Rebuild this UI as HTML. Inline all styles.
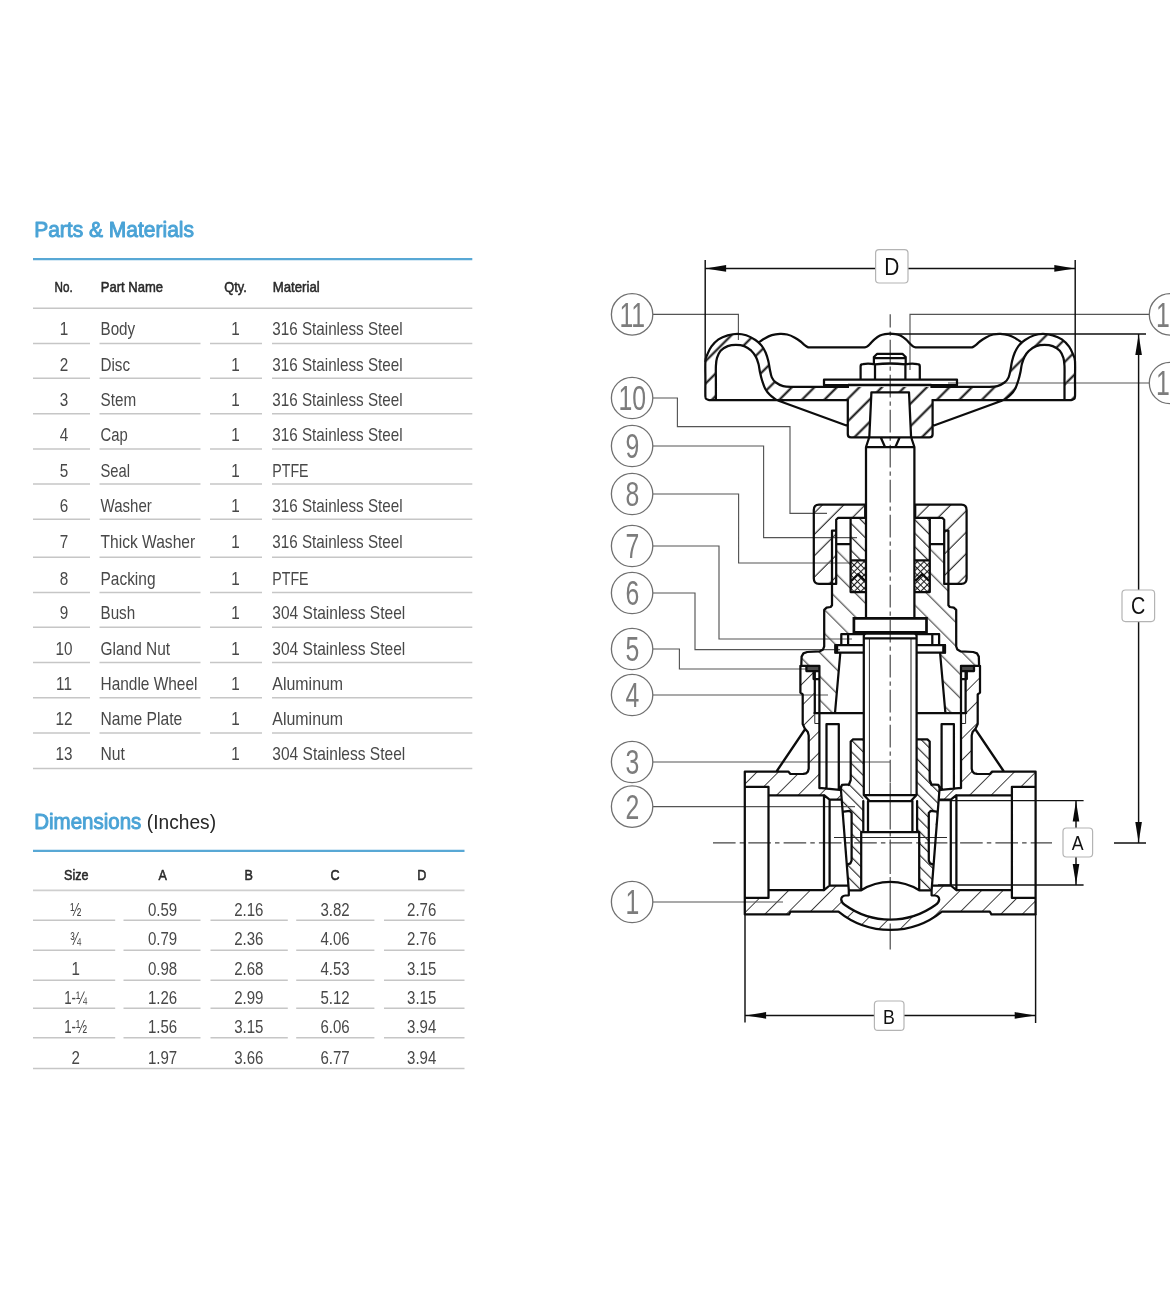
<!DOCTYPE html>
<html lang="en">
<head>
<meta charset="utf-8">
<title>Gate Valve - Parts &amp; Materials</title>
<style>
html,body{margin:0;padding:0;background:#fff}
body{width:1170px;height:1295px;overflow:hidden;font-family:"Liberation Sans",sans-serif}
svg{display:block;will-change:transform}
.k{fill:none;stroke:#0c0c0c;stroke-width:2.25;stroke-linejoin:round;stroke-linecap:round}
.k3{fill:none;stroke:#0c0c0c;stroke-width:2.7;stroke-linejoin:miter}
.k4{fill:none;stroke:#0c0c0c;stroke-width:3.8}
.t{fill:none;stroke:#2a2a2a;stroke-width:1}
.ld{fill:none;stroke:#555;stroke-width:1.15}
.dm{fill:none;stroke:#111;stroke-width:1.45}
.ar{fill:#0a0a0a;stroke:none}
.cl{fill:none;stroke:#444;stroke-width:1.15;stroke-dasharray:22.6 4 4.4 4}
.cc{fill:#fff;stroke:#707070;stroke-width:1.3}
.cn{font-family:"Liberation Sans",sans-serif;font-size:36px;text-anchor:middle;fill:#7c7c7c}
.lb{fill:#fff;stroke:#b4b4b4;stroke-width:1.2}
.wf{fill:#fff;stroke:none}
.sf{fill:#4a4a4a;stroke:none}
.hA{fill:url(#hA);stroke:none}
.hB{fill:url(#hB);stroke:none}
.hC{fill:url(#hC);stroke:none}
.hD{fill:url(#hD);stroke:none}
.hE{fill:url(#hE);stroke:none}
.hG{fill:url(#hG);stroke:none}
.hX{fill:url(#hX);stroke:none}
</style>
</head>
<body>
<svg width="1170" height="1295" viewBox="0 0 1170 1295">
<defs>
<pattern id="hA" width="15.910" height="15.910" patternUnits="userSpaceOnUse" patternTransform="rotate(-45)"><path d="M-1 -9.40H16.91M-1 6.51H16.91M-1 22.42H16.91" stroke="#0a0a0a" stroke-width="1.85"/></pattern>
<pattern id="hB" width="15.167" height="15.167" patternUnits="userSpaceOnUse" patternTransform="rotate(-45)"><path d="M-1 -10.89H16.17M-1 4.28H16.17M-1 19.45H16.17" stroke="#3c3c3c" stroke-width="1.1"/></pattern>
<pattern id="hG" width="15.132" height="15.132" patternUnits="userSpaceOnUse" patternTransform="rotate(-45)"><path d="M-1 -14.78H16.13M-1 0.35H16.13M-1 15.49H16.13" stroke="#2c2c2c" stroke-width="1.1"/></pattern>
<pattern id="hC" width="16.794" height="16.794" patternUnits="userSpaceOnUse" patternTransform="rotate(45)"><path d="M-1 -0.74H17.79M-1 16.05H17.79M-1 32.85H17.79" stroke="#2c2c2c" stroke-width="1.1"/></pattern>
<pattern id="hD" width="8.273" height="8.273" patternUnits="userSpaceOnUse" patternTransform="rotate(45)"><path d="M-1 -4.31H9.27M-1 3.96H9.27M-1 12.23H9.27" stroke="#2a2a2a" stroke-width="1.1"/></pattern>
<pattern id="hE" width="9.546" height="9.546" patternUnits="userSpaceOnUse" patternTransform="rotate(45)"><path d="M-1 -2.47H10.55M-1 7.07H10.55M-1 16.62H10.55" stroke="#2c2c2c" stroke-width="1.1"/></pattern>
<pattern id="hX" width="4.7" height="4.7" patternUnits="userSpaceOnUse" patternTransform="rotate(45)"><path d="M0 2.35H4.7M2.35 0V4.7" stroke="#1c1c1c" stroke-width="1.15"/></pattern>
</defs>
<g id="parts">
<text transform="translate(34.18 237.30) scale(0.982 1)" font-family="Liberation Sans, sans-serif" font-size="21.4" font-weight="normal" fill="#4aa3d6" stroke="#4aa3d6" stroke-width="0.95" stroke-linejoin="round">Parts &amp; Materials</text>
<path d="M33 259.2H472.3" stroke="#58a8d5" stroke-width="2.2" fill="none"/>
<text transform="translate(54.62 291.60) scale(0.789 1)" font-family="Liberation Sans, sans-serif" font-size="14.8" font-weight="normal" fill="#2a2a2a" stroke="#2a2a2a" stroke-width="0.55" stroke-linejoin="round">No.</text>
<text transform="translate(100.82 291.60) scale(0.881 1)" font-family="Liberation Sans, sans-serif" font-size="14.8" font-weight="normal" fill="#2a2a2a" stroke="#2a2a2a" stroke-width="0.55" stroke-linejoin="round">Part Name</text>
<text transform="translate(224.22 291.60) scale(0.866 1)" font-family="Liberation Sans, sans-serif" font-size="14.8" font-weight="normal" fill="#2a2a2a" stroke="#2a2a2a" stroke-width="0.55" stroke-linejoin="round">Qty.</text>
<text transform="translate(272.72 291.60) scale(0.893 1)" font-family="Liberation Sans, sans-serif" font-size="14.8" font-weight="normal" fill="#2a2a2a" stroke="#2a2a2a" stroke-width="0.55" stroke-linejoin="round">Material</text>
<path d="M33 308.2H472.3" stroke="#c6c6c6" stroke-width="1.5" fill="none"/>
<text transform="translate(59.76 335.40) scale(0.840 1)" font-family="Liberation Sans, sans-serif" font-size="18.2" font-weight="normal" fill="#484848">1</text>
<text transform="translate(100.50 335.40) scale(0.836 1)" font-family="Liberation Sans, sans-serif" font-size="18.2" font-weight="normal" fill="#484848">Body</text>
<text transform="translate(231.26 335.40) scale(0.840 1)" font-family="Liberation Sans, sans-serif" font-size="18.2" font-weight="normal" fill="#484848">1</text>
<text transform="translate(272.30 335.40) scale(0.837 1)" font-family="Liberation Sans, sans-serif" font-size="18.2" font-weight="normal" fill="#484848">316 Stainless Steel</text>
<path d="M33 343.4H90" stroke="#c6c6c6" stroke-width="1.5" fill="none"/>
<path d="M99.5 343.4H200.5" stroke="#c6c6c6" stroke-width="1.5" fill="none"/>
<path d="M210 343.4H262" stroke="#c6c6c6" stroke-width="1.5" fill="none"/>
<path d="M272 343.4H472.3" stroke="#c6c6c6" stroke-width="1.5" fill="none"/>
<text transform="translate(59.76 370.60) scale(0.840 1)" font-family="Liberation Sans, sans-serif" font-size="18.2" font-weight="normal" fill="#484848">2</text>
<text transform="translate(100.50 370.60) scale(0.836 1)" font-family="Liberation Sans, sans-serif" font-size="18.2" font-weight="normal" fill="#484848">Disc</text>
<text transform="translate(231.26 370.60) scale(0.840 1)" font-family="Liberation Sans, sans-serif" font-size="18.2" font-weight="normal" fill="#484848">1</text>
<text transform="translate(272.30 370.60) scale(0.837 1)" font-family="Liberation Sans, sans-serif" font-size="18.2" font-weight="normal" fill="#484848">316 Stainless Steel</text>
<path d="M33 378.3H90" stroke="#c6c6c6" stroke-width="1.5" fill="none"/>
<path d="M99.5 378.3H200.5" stroke="#c6c6c6" stroke-width="1.5" fill="none"/>
<path d="M210 378.3H262" stroke="#c6c6c6" stroke-width="1.5" fill="none"/>
<path d="M272 378.3H472.3" stroke="#c6c6c6" stroke-width="1.5" fill="none"/>
<text transform="translate(59.76 406.00) scale(0.840 1)" font-family="Liberation Sans, sans-serif" font-size="18.2" font-weight="normal" fill="#484848">3</text>
<text transform="translate(100.50 406.00) scale(0.838 1)" font-family="Liberation Sans, sans-serif" font-size="18.2" font-weight="normal" fill="#484848">Stem</text>
<text transform="translate(231.26 406.00) scale(0.840 1)" font-family="Liberation Sans, sans-serif" font-size="18.2" font-weight="normal" fill="#484848">1</text>
<text transform="translate(272.30 406.00) scale(0.837 1)" font-family="Liberation Sans, sans-serif" font-size="18.2" font-weight="normal" fill="#484848">316 Stainless Steel</text>
<path d="M33 413.8H90" stroke="#c6c6c6" stroke-width="1.5" fill="none"/>
<path d="M99.5 413.8H200.5" stroke="#c6c6c6" stroke-width="1.5" fill="none"/>
<path d="M210 413.8H262" stroke="#c6c6c6" stroke-width="1.5" fill="none"/>
<path d="M272 413.8H472.3" stroke="#c6c6c6" stroke-width="1.5" fill="none"/>
<text transform="translate(59.76 441.10) scale(0.840 1)" font-family="Liberation Sans, sans-serif" font-size="18.2" font-weight="normal" fill="#484848">4</text>
<text transform="translate(100.50 441.10) scale(0.817 1)" font-family="Liberation Sans, sans-serif" font-size="18.2" font-weight="normal" fill="#484848">Cap</text>
<text transform="translate(231.26 441.10) scale(0.840 1)" font-family="Liberation Sans, sans-serif" font-size="18.2" font-weight="normal" fill="#484848">1</text>
<text transform="translate(272.30 441.10) scale(0.837 1)" font-family="Liberation Sans, sans-serif" font-size="18.2" font-weight="normal" fill="#484848">316 Stainless Steel</text>
<path d="M33 449.1H90" stroke="#c6c6c6" stroke-width="1.5" fill="none"/>
<path d="M99.5 449.1H200.5" stroke="#c6c6c6" stroke-width="1.5" fill="none"/>
<path d="M210 449.1H262" stroke="#c6c6c6" stroke-width="1.5" fill="none"/>
<path d="M272 449.1H472.3" stroke="#c6c6c6" stroke-width="1.5" fill="none"/>
<text transform="translate(59.76 476.50) scale(0.840 1)" font-family="Liberation Sans, sans-serif" font-size="18.2" font-weight="normal" fill="#484848">5</text>
<text transform="translate(100.50 476.50) scale(0.813 1)" font-family="Liberation Sans, sans-serif" font-size="18.2" font-weight="normal" fill="#484848">Seal</text>
<text transform="translate(231.26 476.50) scale(0.840 1)" font-family="Liberation Sans, sans-serif" font-size="18.2" font-weight="normal" fill="#484848">1</text>
<text transform="translate(272.30 476.50) scale(0.781 1)" font-family="Liberation Sans, sans-serif" font-size="18.2" font-weight="normal" fill="#484848">PTFE</text>
<path d="M33 484.1H90" stroke="#c6c6c6" stroke-width="1.5" fill="none"/>
<path d="M99.5 484.1H200.5" stroke="#c6c6c6" stroke-width="1.5" fill="none"/>
<path d="M210 484.1H262" stroke="#c6c6c6" stroke-width="1.5" fill="none"/>
<path d="M272 484.1H472.3" stroke="#c6c6c6" stroke-width="1.5" fill="none"/>
<text transform="translate(59.76 511.60) scale(0.840 1)" font-family="Liberation Sans, sans-serif" font-size="18.2" font-weight="normal" fill="#484848">6</text>
<text transform="translate(100.50 511.60) scale(0.827 1)" font-family="Liberation Sans, sans-serif" font-size="18.2" font-weight="normal" fill="#484848">Washer</text>
<text transform="translate(231.26 511.60) scale(0.840 1)" font-family="Liberation Sans, sans-serif" font-size="18.2" font-weight="normal" fill="#484848">1</text>
<text transform="translate(272.30 511.60) scale(0.837 1)" font-family="Liberation Sans, sans-serif" font-size="18.2" font-weight="normal" fill="#484848">316 Stainless Steel</text>
<path d="M33 519.3H90" stroke="#c6c6c6" stroke-width="1.5" fill="none"/>
<path d="M99.5 519.3H200.5" stroke="#c6c6c6" stroke-width="1.5" fill="none"/>
<path d="M210 519.3H262" stroke="#c6c6c6" stroke-width="1.5" fill="none"/>
<path d="M272 519.3H472.3" stroke="#c6c6c6" stroke-width="1.5" fill="none"/>
<text transform="translate(59.76 547.60) scale(0.840 1)" font-family="Liberation Sans, sans-serif" font-size="18.2" font-weight="normal" fill="#484848">7</text>
<text transform="translate(100.50 547.60) scale(0.857 1)" font-family="Liberation Sans, sans-serif" font-size="18.2" font-weight="normal" fill="#484848">Thick Washer</text>
<text transform="translate(231.26 547.60) scale(0.840 1)" font-family="Liberation Sans, sans-serif" font-size="18.2" font-weight="normal" fill="#484848">1</text>
<text transform="translate(272.30 547.60) scale(0.837 1)" font-family="Liberation Sans, sans-serif" font-size="18.2" font-weight="normal" fill="#484848">316 Stainless Steel</text>
<path d="M33 557.3H90" stroke="#c6c6c6" stroke-width="1.5" fill="none"/>
<path d="M99.5 557.3H200.5" stroke="#c6c6c6" stroke-width="1.5" fill="none"/>
<path d="M210 557.3H262" stroke="#c6c6c6" stroke-width="1.5" fill="none"/>
<path d="M272 557.3H472.3" stroke="#c6c6c6" stroke-width="1.5" fill="none"/>
<text transform="translate(59.76 584.80) scale(0.840 1)" font-family="Liberation Sans, sans-serif" font-size="18.2" font-weight="normal" fill="#484848">8</text>
<text transform="translate(100.50 584.80) scale(0.850 1)" font-family="Liberation Sans, sans-serif" font-size="18.2" font-weight="normal" fill="#484848">Packing</text>
<text transform="translate(231.26 584.80) scale(0.840 1)" font-family="Liberation Sans, sans-serif" font-size="18.2" font-weight="normal" fill="#484848">1</text>
<text transform="translate(272.30 584.80) scale(0.781 1)" font-family="Liberation Sans, sans-serif" font-size="18.2" font-weight="normal" fill="#484848">PTFE</text>
<path d="M33 592.5H90" stroke="#c6c6c6" stroke-width="1.5" fill="none"/>
<path d="M99.5 592.5H200.5" stroke="#c6c6c6" stroke-width="1.5" fill="none"/>
<path d="M210 592.5H262" stroke="#c6c6c6" stroke-width="1.5" fill="none"/>
<path d="M272 592.5H472.3" stroke="#c6c6c6" stroke-width="1.5" fill="none"/>
<text transform="translate(59.76 619.40) scale(0.840 1)" font-family="Liberation Sans, sans-serif" font-size="18.2" font-weight="normal" fill="#484848">9</text>
<text transform="translate(100.50 619.40) scale(0.836 1)" font-family="Liberation Sans, sans-serif" font-size="18.2" font-weight="normal" fill="#484848">Bush</text>
<text transform="translate(231.26 619.40) scale(0.840 1)" font-family="Liberation Sans, sans-serif" font-size="18.2" font-weight="normal" fill="#484848">1</text>
<text transform="translate(272.30 619.40) scale(0.854 1)" font-family="Liberation Sans, sans-serif" font-size="18.2" font-weight="normal" fill="#484848">304 Stainless Steel</text>
<path d="M33 627.3H90" stroke="#c6c6c6" stroke-width="1.5" fill="none"/>
<path d="M99.5 627.3H200.5" stroke="#c6c6c6" stroke-width="1.5" fill="none"/>
<path d="M210 627.3H262" stroke="#c6c6c6" stroke-width="1.5" fill="none"/>
<path d="M272 627.3H472.3" stroke="#c6c6c6" stroke-width="1.5" fill="none"/>
<text transform="translate(55.52 654.50) scale(0.840 1)" font-family="Liberation Sans, sans-serif" font-size="18.2" font-weight="normal" fill="#484848">10</text>
<text transform="translate(100.50 654.50) scale(0.849 1)" font-family="Liberation Sans, sans-serif" font-size="18.2" font-weight="normal" fill="#484848">Gland Nut</text>
<text transform="translate(231.26 654.50) scale(0.840 1)" font-family="Liberation Sans, sans-serif" font-size="18.2" font-weight="normal" fill="#484848">1</text>
<text transform="translate(272.30 654.50) scale(0.854 1)" font-family="Liberation Sans, sans-serif" font-size="18.2" font-weight="normal" fill="#484848">304 Stainless Steel</text>
<path d="M33 662.4H90" stroke="#c6c6c6" stroke-width="1.5" fill="none"/>
<path d="M99.5 662.4H200.5" stroke="#c6c6c6" stroke-width="1.5" fill="none"/>
<path d="M210 662.4H262" stroke="#c6c6c6" stroke-width="1.5" fill="none"/>
<path d="M272 662.4H472.3" stroke="#c6c6c6" stroke-width="1.5" fill="none"/>
<text transform="translate(56.05 689.80) scale(0.840 1)" font-family="Liberation Sans, sans-serif" font-size="18.2" font-weight="normal" fill="#484848">11</text>
<text transform="translate(100.50 689.80) scale(0.848 1)" font-family="Liberation Sans, sans-serif" font-size="18.2" font-weight="normal" fill="#484848">Handle Wheel</text>
<text transform="translate(231.26 689.80) scale(0.840 1)" font-family="Liberation Sans, sans-serif" font-size="18.2" font-weight="normal" fill="#484848">1</text>
<text transform="translate(272.30 689.80) scale(0.876 1)" font-family="Liberation Sans, sans-serif" font-size="18.2" font-weight="normal" fill="#484848">Aluminum</text>
<path d="M33 697.8H90" stroke="#c6c6c6" stroke-width="1.5" fill="none"/>
<path d="M99.5 697.8H200.5" stroke="#c6c6c6" stroke-width="1.5" fill="none"/>
<path d="M210 697.8H262" stroke="#c6c6c6" stroke-width="1.5" fill="none"/>
<path d="M272 697.8H472.3" stroke="#c6c6c6" stroke-width="1.5" fill="none"/>
<text transform="translate(55.52 724.90) scale(0.840 1)" font-family="Liberation Sans, sans-serif" font-size="18.2" font-weight="normal" fill="#484848">12</text>
<text transform="translate(100.50 724.90) scale(0.860 1)" font-family="Liberation Sans, sans-serif" font-size="18.2" font-weight="normal" fill="#484848">Name Plate</text>
<text transform="translate(231.26 724.90) scale(0.840 1)" font-family="Liberation Sans, sans-serif" font-size="18.2" font-weight="normal" fill="#484848">1</text>
<text transform="translate(272.30 724.90) scale(0.876 1)" font-family="Liberation Sans, sans-serif" font-size="18.2" font-weight="normal" fill="#484848">Aluminum</text>
<path d="M33 732.9H90" stroke="#c6c6c6" stroke-width="1.5" fill="none"/>
<path d="M99.5 732.9H200.5" stroke="#c6c6c6" stroke-width="1.5" fill="none"/>
<path d="M210 732.9H262" stroke="#c6c6c6" stroke-width="1.5" fill="none"/>
<path d="M272 732.9H472.3" stroke="#c6c6c6" stroke-width="1.5" fill="none"/>
<text transform="translate(55.52 760.00) scale(0.840 1)" font-family="Liberation Sans, sans-serif" font-size="18.2" font-weight="normal" fill="#484848">13</text>
<text transform="translate(100.50 760.00) scale(0.862 1)" font-family="Liberation Sans, sans-serif" font-size="18.2" font-weight="normal" fill="#484848">Nut</text>
<text transform="translate(231.26 760.00) scale(0.840 1)" font-family="Liberation Sans, sans-serif" font-size="18.2" font-weight="normal" fill="#484848">1</text>
<text transform="translate(272.30 760.00) scale(0.854 1)" font-family="Liberation Sans, sans-serif" font-size="18.2" font-weight="normal" fill="#484848">304 Stainless Steel</text>
<path d="M33 768.4H472.3" stroke="#c6c6c6" stroke-width="1.5" fill="none"/>
</g>
<g id="dims">
<text transform="translate(34.18 829.10) scale(0.959 1)" font-family="Liberation Sans, sans-serif" font-size="21.4" font-weight="normal" fill="#4aa3d6" stroke="#4aa3d6" stroke-width="0.95" stroke-linejoin="round">Dimensions</text>
<text transform="translate(146.80 829.10) scale(0.913 1)" font-family="Liberation Sans, sans-serif" font-size="21" font-weight="normal" fill="#262626">(Inches)</text>
<path d="M33 850.8H464.5" stroke="#58a8d5" stroke-width="2.2" fill="none"/>
<text transform="translate(64.07 879.60) scale(0.850 1)" font-family="Liberation Sans, sans-serif" font-size="14.8" font-weight="normal" fill="#2a2a2a" stroke="#2a2a2a" stroke-width="0.55" stroke-linejoin="round">Size</text>
<text transform="translate(158.39 879.60) scale(0.850 1)" font-family="Liberation Sans, sans-serif" font-size="14.8" font-weight="normal" fill="#2a2a2a" stroke="#2a2a2a" stroke-width="0.55" stroke-linejoin="round">A</text>
<text transform="translate(244.62 879.60) scale(0.850 1)" font-family="Liberation Sans, sans-serif" font-size="14.8" font-weight="normal" fill="#2a2a2a" stroke="#2a2a2a" stroke-width="0.55" stroke-linejoin="round">B</text>
<text transform="translate(330.57 879.60) scale(0.850 1)" font-family="Liberation Sans, sans-serif" font-size="14.8" font-weight="normal" fill="#2a2a2a" stroke="#2a2a2a" stroke-width="0.55" stroke-linejoin="round">C</text>
<text transform="translate(417.17 879.60) scale(0.850 1)" font-family="Liberation Sans, sans-serif" font-size="14.8" font-weight="normal" fill="#2a2a2a" stroke="#2a2a2a" stroke-width="0.55" stroke-linejoin="round">D</text>
<path d="M33 890.4H464.5" stroke="#cfcfcf" stroke-width="1.8" fill="none"/>
<text transform="translate(70.14 915.50) scale(0.740 1)" font-family="Liberation Sans, sans-serif" font-size="18" font-weight="normal" fill="#484848">½</text>
<text transform="translate(147.95 915.50) scale(0.837 1)" font-family="Liberation Sans, sans-serif" font-size="18" font-weight="normal" fill="#484848">0.59</text>
<text transform="translate(234.15 915.50) scale(0.837 1)" font-family="Liberation Sans, sans-serif" font-size="18" font-weight="normal" fill="#484848">2.16</text>
<text transform="translate(320.45 915.50) scale(0.837 1)" font-family="Liberation Sans, sans-serif" font-size="18" font-weight="normal" fill="#484848">3.82</text>
<text transform="translate(407.05 915.50) scale(0.837 1)" font-family="Liberation Sans, sans-serif" font-size="18" font-weight="normal" fill="#484848">2.76</text>
<path d="M33 920.3H115.2" stroke="#c6c6c6" stroke-width="1.5" fill="none"/>
<path d="M123.5 920.3H200.5" stroke="#c6c6c6" stroke-width="1.5" fill="none"/>
<path d="M210.5 920.3H287.8" stroke="#c6c6c6" stroke-width="1.5" fill="none"/>
<path d="M296.2 920.3H374.4" stroke="#c6c6c6" stroke-width="1.5" fill="none"/>
<path d="M384 920.3H464.5" stroke="#c6c6c6" stroke-width="1.5" fill="none"/>
<text transform="translate(70.07 944.60) scale(0.740 1)" font-family="Liberation Sans, sans-serif" font-size="18" font-weight="normal" fill="#484848">¾</text>
<text transform="translate(147.95 944.60) scale(0.837 1)" font-family="Liberation Sans, sans-serif" font-size="18" font-weight="normal" fill="#484848">0.79</text>
<text transform="translate(234.15 944.60) scale(0.837 1)" font-family="Liberation Sans, sans-serif" font-size="18" font-weight="normal" fill="#484848">2.36</text>
<text transform="translate(320.45 944.60) scale(0.837 1)" font-family="Liberation Sans, sans-serif" font-size="18" font-weight="normal" fill="#484848">4.06</text>
<text transform="translate(407.05 944.60) scale(0.837 1)" font-family="Liberation Sans, sans-serif" font-size="18" font-weight="normal" fill="#484848">2.76</text>
<path d="M33 950.2H115.2" stroke="#c6c6c6" stroke-width="1.5" fill="none"/>
<path d="M123.5 950.2H200.5" stroke="#c6c6c6" stroke-width="1.5" fill="none"/>
<path d="M210.5 950.2H287.8" stroke="#c6c6c6" stroke-width="1.5" fill="none"/>
<path d="M296.2 950.2H374.4" stroke="#c6c6c6" stroke-width="1.5" fill="none"/>
<path d="M384 950.2H464.5" stroke="#c6c6c6" stroke-width="1.5" fill="none"/>
<text transform="translate(71.50 975.00) scale(0.840 1)" font-family="Liberation Sans, sans-serif" font-size="18" font-weight="normal" fill="#484848">1</text>
<text transform="translate(147.95 975.00) scale(0.837 1)" font-family="Liberation Sans, sans-serif" font-size="18" font-weight="normal" fill="#484848">0.98</text>
<text transform="translate(234.15 975.00) scale(0.837 1)" font-family="Liberation Sans, sans-serif" font-size="18" font-weight="normal" fill="#484848">2.68</text>
<text transform="translate(320.45 975.00) scale(0.837 1)" font-family="Liberation Sans, sans-serif" font-size="18" font-weight="normal" fill="#484848">4.53</text>
<text transform="translate(407.05 975.00) scale(0.837 1)" font-family="Liberation Sans, sans-serif" font-size="18" font-weight="normal" fill="#484848">3.15</text>
<path d="M33 980.2H115.2" stroke="#c6c6c6" stroke-width="1.5" fill="none"/>
<path d="M123.5 980.2H200.5" stroke="#c6c6c6" stroke-width="1.5" fill="none"/>
<path d="M210.5 980.2H287.8" stroke="#c6c6c6" stroke-width="1.5" fill="none"/>
<path d="M296.2 980.2H374.4" stroke="#c6c6c6" stroke-width="1.5" fill="none"/>
<path d="M384 980.2H464.5" stroke="#c6c6c6" stroke-width="1.5" fill="none"/>
<text transform="translate(64.14 1004.10) scale(0.740 1)" font-family="Liberation Sans, sans-serif" font-size="18" font-weight="normal" fill="#484848">1-¼</text>
<text transform="translate(147.95 1004.10) scale(0.837 1)" font-family="Liberation Sans, sans-serif" font-size="18" font-weight="normal" fill="#484848">1.26</text>
<text transform="translate(234.15 1004.10) scale(0.837 1)" font-family="Liberation Sans, sans-serif" font-size="18" font-weight="normal" fill="#484848">2.99</text>
<text transform="translate(320.45 1004.10) scale(0.837 1)" font-family="Liberation Sans, sans-serif" font-size="18" font-weight="normal" fill="#484848">5.12</text>
<text transform="translate(407.05 1004.10) scale(0.837 1)" font-family="Liberation Sans, sans-serif" font-size="18" font-weight="normal" fill="#484848">3.15</text>
<path d="M33 1008.2H115.2" stroke="#c6c6c6" stroke-width="1.5" fill="none"/>
<path d="M123.5 1008.2H200.5" stroke="#c6c6c6" stroke-width="1.5" fill="none"/>
<path d="M210.5 1008.2H287.8" stroke="#c6c6c6" stroke-width="1.5" fill="none"/>
<path d="M296.2 1008.2H374.4" stroke="#c6c6c6" stroke-width="1.5" fill="none"/>
<path d="M384 1008.2H464.5" stroke="#c6c6c6" stroke-width="1.5" fill="none"/>
<text transform="translate(64.21 1032.80) scale(0.740 1)" font-family="Liberation Sans, sans-serif" font-size="18" font-weight="normal" fill="#484848">1-½</text>
<text transform="translate(147.95 1032.80) scale(0.837 1)" font-family="Liberation Sans, sans-serif" font-size="18" font-weight="normal" fill="#484848">1.56</text>
<text transform="translate(234.15 1032.80) scale(0.837 1)" font-family="Liberation Sans, sans-serif" font-size="18" font-weight="normal" fill="#484848">3.15</text>
<text transform="translate(320.45 1032.80) scale(0.837 1)" font-family="Liberation Sans, sans-serif" font-size="18" font-weight="normal" fill="#484848">6.06</text>
<text transform="translate(407.05 1032.80) scale(0.837 1)" font-family="Liberation Sans, sans-serif" font-size="18" font-weight="normal" fill="#484848">3.94</text>
<path d="M33 1037.8H115.2" stroke="#c6c6c6" stroke-width="1.5" fill="none"/>
<path d="M123.5 1037.8H200.5" stroke="#c6c6c6" stroke-width="1.5" fill="none"/>
<path d="M210.5 1037.8H287.8" stroke="#c6c6c6" stroke-width="1.5" fill="none"/>
<path d="M296.2 1037.8H374.4" stroke="#c6c6c6" stroke-width="1.5" fill="none"/>
<path d="M384 1037.8H464.5" stroke="#c6c6c6" stroke-width="1.5" fill="none"/>
<text transform="translate(71.50 1063.50) scale(0.840 1)" font-family="Liberation Sans, sans-serif" font-size="18" font-weight="normal" fill="#484848">2</text>
<text transform="translate(147.95 1063.50) scale(0.837 1)" font-family="Liberation Sans, sans-serif" font-size="18" font-weight="normal" fill="#484848">1.97</text>
<text transform="translate(234.15 1063.50) scale(0.837 1)" font-family="Liberation Sans, sans-serif" font-size="18" font-weight="normal" fill="#484848">3.66</text>
<text transform="translate(320.45 1063.50) scale(0.837 1)" font-family="Liberation Sans, sans-serif" font-size="18" font-weight="normal" fill="#484848">6.77</text>
<text transform="translate(407.05 1063.50) scale(0.837 1)" font-family="Liberation Sans, sans-serif" font-size="18" font-weight="normal" fill="#484848">3.94</text>
<path d="M33 1068.4H464.5" stroke="#c6c6c6" stroke-width="1.5" fill="none"/>
</g>
<g id="drawing">
<path class="hA" d="M709 400C708.6 399.8 707 399.6 706.4 399C705.8 398.4 705.6 399.7 705.4 396.5C705.2 393.3 705.4 385.9 705.4 380C705.4 374.1 705.1 365.2 705.4 361C705.7 356.8 706.2 357.2 707.2 354.8C708.2 352.4 709.4 349.2 711.3 346.6C713.2 344 715.8 341.3 718.5 339.4C721.2 337.5 724.5 336.2 727.7 335.3C730.9 334.4 734.4 333.8 737.5 333.8C740.6 333.8 743.2 334.3 746.2 335.3C749.2 336.3 752.8 338.3 755.4 340C758 341.7 759.9 343.5 761.6 345.6C763.3 347.7 764.6 350.2 765.7 352.8C766.8 355.4 767.6 358.3 768.3 361C769 363.7 769.2 366.5 769.8 369.2C770.4 371.9 770.8 375.2 771.8 377.4C772.8 379.6 774 381.1 775.9 382.5C777.8 383.9 780.4 385.4 783.1 386.1C785.9 386.8 790.9 386.8 792.4 386.9L988 386.9L988 386.9C989.5 386.8 994.5 386.8 997.3 386.1C1000 385.4 1002.6 383.9 1004.5 382.5C1006.4 381.1 1007.6 379.6 1008.6 377.4C1009.6 375.2 1010 371.9 1010.6 369.2C1011.2 366.5 1011.4 363.7 1012.1 361C1012.8 358.3 1013.6 355.4 1014.7 352.8C1015.8 350.2 1017.1 347.7 1018.8 345.6C1020.5 343.5 1022.4 341.7 1025 340C1027.6 338.3 1031.2 336.3 1034.2 335.3C1037.2 334.3 1039.8 333.8 1042.9 333.8C1046 333.8 1049.5 334.4 1052.7 335.3C1055.9 336.2 1059.2 337.5 1061.9 339.4C1064.6 341.3 1067.2 344 1069.1 346.6C1071 349.2 1072.2 352.4 1073.2 354.8C1074.2 357.2 1074.7 356.8 1075 361C1075.3 365.2 1075 374.1 1075 380C1075 385.9 1075.2 393.3 1075 396.5C1074.8 399.7 1074.6 398.4 1074 399C1073.4 399.6 1071.8 399.8 1071.4 400L1064.5 399.5L1064.5 399.5C1064.5 396.6 1064.5 387.6 1064.5 382C1064.5 376.4 1064.7 370 1064.5 366C1064.3 362 1064.2 360.4 1063.4 357.9C1062.6 355.3 1061.6 352.7 1059.8 350.7C1058 348.7 1055.2 347.1 1052.7 346.1C1050.2 345.1 1047.2 344.8 1044.5 344.8C1041.8 344.8 1038.8 345.1 1036.2 346.1C1033.6 347.1 1031 348.9 1029.1 350.7C1027.1 352.5 1025.7 354.7 1024.5 356.9C1023.3 359.1 1022.6 361.4 1021.9 364C1021.2 366.6 1021 369.6 1020.4 372.3C1019.8 375.1 1019.2 377.8 1018.3 380.5C1017.4 383.2 1016.5 386.3 1015.2 388.7C1013.9 391.1 1012.4 393 1010.6 394.8C1008.8 396.6 1005.4 398.8 1004.4 399.6L932.4 400 L932.4 435 L929.4 438 L911.4 438 L908.4 393 L872 393 L869 438 L851 438 L848 435 L848 400L776 399.6L776 399.6C775 398.8 771.6 396.6 769.8 394.8C768 393 766.5 391.1 765.2 388.7C763.9 386.3 763 383.2 762.1 380.5C761.2 377.8 760.6 375.1 760 372.3C759.4 369.6 759.2 366.6 758.5 364C757.8 361.4 757.1 359.1 755.9 356.9C754.7 354.7 753.2 352.5 751.3 350.7C749.3 348.9 746.8 347.1 744.2 346.1C741.6 345.1 738.6 344.8 735.9 344.8C733.1 344.8 730.2 345.1 727.7 346.1C725.2 347.1 722.4 348.7 720.6 350.7C718.8 352.7 717.8 355.3 717 357.9C716.2 360.4 716.1 362 715.9 366C715.7 370 715.9 376.4 715.9 382C715.9 387.6 715.9 396.6 715.9 399.5Z"/>
<path class="hG" d="M813.8 504.6 L865.2 504.6 L865.2 517.8 L836.2 517.8 L836.2 583.9 L813.8 583.9ZM966.6 504.6 L915.2 504.6 L915.2 517.8 L944.2 517.8 L944.2 583.9 L966.6 583.9Z"/>
<path class="hE" d="M850.6 517.8 L865.2 517.8 L865.2 560.4 L850.6 560.4ZM929.8 517.8 L915.2 517.8 L915.2 560.4 L929.8 560.4Z"/>
<path class="hX" d="M850.6 560.4 L865.2 560.4 L865.2 592 L850.6 592ZM929.8 560.4 L915.2 560.4 L915.2 592 L929.8 592Z"/>
<path class="hC" d="M836.2 544 L850.6 544 L850.6 592 L865.2 592 L865.2 618.2 L853.6 618.2 L853.6 633.8 L841.3 633.8 L841.3 645 L834.4 645 L834.4 652.8 L840.2 652.8 L835 713 L819.3 713 L819.3 665.8 L801.5 665.8 L801.5 657 L805.4 652.2 L820.8 651.6 L824.2 647 L824.2 609 L832 606.6 L832 583.9 L836.2 583.9ZM944.2 544 L929.8 544 L929.8 592 L915.2 592 L915.2 618.2 L926.8 618.2 L926.8 633.8 L939.1 633.8 L939.1 645 L946 645 L946 652.8 L940.2 652.8 L945.4 713 L961.1 713 L961.1 665.8 L978.9 665.8 L978.9 657 L975 652.2 L959.6 651.6 L956.2 647 L956.2 609 L948.4 606.6 L948.4 583.9 L944.2 583.9Z"/>
<path class="hB" d="M800.6 665 L800.6 690 L802.4 692 L802.4 724 L805 729 L808.6 733 L808.6 770 L805 774 L789 774 L788 771.6 L745 771.6 L745 786.8 L768.5 786.8 L768.5 795.3 L824 795.3 L829 799.6 L841.8 799.6 L841 790 L839.4 789 L819 787.5 L819 724 L814.3 724 L814.3 671 L806.2 671 L806.2 665ZM979.8 665 L979.8 690 L978 692 L978 724 L975.4 729 L971.8 733 L971.8 770 L975.4 774 L991.4 774 L992.4 771.6 L1035.4 771.6 L1035.4 786.8 L1011.9 786.8 L1011.9 795.3 L956.4 795.3 L951.4 799.6 L938.6 799.6 L939.4 790 L941 789 L961.4 787.5 L961.4 724 L966.1 724 L966.1 671 L974.2 671 L974.2 665Z"/>
<path class="hB" d="M848.4 885.5L848.8 895.3L845.5 895.5Q841.3 896 841.2 899.5Q841.6 903 845 905A77.3 77.3 0 0 0 935.4 905Q938.8 903 939.2 899.5Q939.1 896 934.9 895.5L931.6 895.3L932 885.5 L950.8 885.5 L956.4 890.2 L1011.9 890.2 L1011.9 897.9 L1035.4 897.9 L1035.4 914.4 L991.4 914.4 L989.9 911.7 L941.9 911.7A82.2 82.2 0 0 1 838.5 911.7L838.5 911.7 L790.5 911.7 L789 914.4 L745 914.4 L745 897.9 L768.5 897.9 L768.5 890.2 L824 890.2 L829.6 885.5 L848.4 885.5Z"/>
<path class="hD" d="M850.7 741 L852.5 739.4 L863.3 739.4 L863.3 832 L861.2 832 L861.2 890.3 L848.8 890.3 L841.2 790 L841.8 785 L848.8 784.4 L850.7 780ZM929.7 741 L927.9 739.4 L917.1 739.4 L917.1 832 L919.2 832 L919.2 890.3 L931.6 890.3 L939.2 790 L938.6 785 L931.6 784.4 L929.7 780Z"/>
<path class="wf" d="M843.8 811.6 L849.6 810.8 L851.6 813 L851.6 860.5 L850.4 863.4 L847.6 864.6ZM936.6 811.6 L930.8 810.8 L928.8 813 L928.8 860.5 L930 863.4 L932.8 864.6Z"/>
<path class="ld" d="M653 314.4H738.4V340M653 398H677.4V426.6H790V513.4H827M653 446H763.6V537.6H857M653 494H738.6V563H851M653 546H719V639H852M653 593H695V649.6H840M653 649H679.4V669H806M653 695H828M653 762H890M653 806.6H855M653 902H783M1149.5 314.4H910V370M1149.5 383H948"/>
<circle class="cc" cx="632.1" cy="314.4" r="20.7"/>
<text class="cn" transform="translate(632.3 326.8) scale(0.69 1)">11</text>
<circle class="cc" cx="632.1" cy="398" r="20.7"/>
<text class="cn" transform="translate(632.3 410.4) scale(0.69 1)">10</text>
<circle class="cc" cx="632.1" cy="446" r="20.7"/>
<text class="cn" transform="translate(632.3 458.4) scale(0.69 1)">9</text>
<circle class="cc" cx="632.1" cy="494" r="20.7"/>
<text class="cn" transform="translate(632.3 506.4) scale(0.69 1)">8</text>
<circle class="cc" cx="632.1" cy="546" r="20.7"/>
<text class="cn" transform="translate(632.3 558.4) scale(0.69 1)">7</text>
<circle class="cc" cx="632.1" cy="593" r="20.7"/>
<text class="cn" transform="translate(632.3 605.4) scale(0.69 1)">6</text>
<circle class="cc" cx="632.1" cy="649" r="20.7"/>
<text class="cn" transform="translate(632.3 661.4) scale(0.69 1)">5</text>
<circle class="cc" cx="632.1" cy="695" r="20.7"/>
<text class="cn" transform="translate(632.3 707.4) scale(0.69 1)">4</text>
<circle class="cc" cx="632.1" cy="762" r="20.7"/>
<text class="cn" transform="translate(632.3 774.4) scale(0.69 1)">3</text>
<circle class="cc" cx="632.1" cy="806.6" r="20.7"/>
<text class="cn" transform="translate(632.3 819.0) scale(0.69 1)">2</text>
<circle class="cc" cx="632.1" cy="902" r="20.7"/>
<text class="cn" transform="translate(632.3 914.4) scale(0.69 1)">1</text>
<circle class="cc" cx="1170" cy="314.4" r="20.7"/>
<text class="cn" transform="translate(1169.8 326.8) scale(0.69 1)">13</text>
<circle class="cc" cx="1170" cy="383" r="20.7"/>
<text class="cn" transform="translate(1169.8 395.4) scale(0.69 1)">12</text>
<path class="cl" d="M890.2 314.2V783" stroke-dashoffset="9.4"/>
<path class="cl" d="M890.2 783V949.6" style="stroke-dasharray:46.5 3.5 3.5 3 34.5 3 42 4.5 30"/>
<path class="cl" d="M713 842.8H1052" style="stroke-dasharray:22.6 4.1 4.5 4.1"/>
<path class="t" d="M869.4 638V795M911.0 638V795M814.8 713V723.5H819M965.6 713V723.5H961.4M834 837.5H947"/>
<path class="k4" d="M824 386H849M930.4 386H957"/>
<path class="k3" d="M848 385H931.4"/>
<path class="k3" d="M853.9 618.4H926.5V632.4H853.9Z"/>
<path class="ar" d="M834.4 644.2H838.2V653.6H834.4ZM946.0 644.2H942.2V653.6H946.0Z"/>
<path class="sf" d="M806.4 666.6H819V670.6H806.4ZM974.0 666.6H961.4V670.6H974.0Z"/>
<path class="k" d="M709 400C708.6 399.8 707 399.6 706.4 399C705.8 398.4 705.6 399.7 705.4 396.5C705.2 393.3 705.4 385.9 705.4 380C705.4 374.1 705.1 365.2 705.4 361C705.7 356.8 706.2 357.2 707.2 354.8C708.2 352.4 709.4 349.2 711.3 346.6C713.2 344 715.8 341.3 718.5 339.4C721.2 337.5 724.5 336.2 727.7 335.3C730.9 334.4 734.4 333.8 737.5 333.8C740.6 333.8 743.2 334.3 746.2 335.3C749.2 336.3 752.8 338.3 755.4 340C758 341.7 759.9 343.5 761.6 345.6C763.3 347.7 764.6 350.2 765.7 352.8C766.8 355.4 767.6 358.3 768.3 361C769 363.7 769.2 366.5 769.8 369.2C770.4 371.9 770.8 375.2 771.8 377.4C772.8 379.6 774 381.1 775.9 382.5C777.8 383.9 780.4 385.4 783.1 386.1C785.9 386.8 790.9 386.8 792.4 386.9H824M1071.4 400C1071.8 399.8 1073.4 399.6 1074 399C1074.6 398.4 1074.8 399.7 1075 396.5C1075.2 393.3 1075 385.9 1075 380C1075 374.1 1075.3 365.2 1075 361C1074.7 356.8 1074.2 357.2 1073.2 354.8C1072.2 352.4 1071 349.2 1069.1 346.6C1067.2 344 1064.6 341.3 1061.9 339.4C1059.2 337.5 1055.9 336.2 1052.7 335.3C1049.5 334.4 1046 333.8 1042.9 333.8C1039.8 333.8 1037.2 334.3 1034.2 335.3C1031.2 336.3 1027.6 338.3 1025 340C1022.4 341.7 1020.5 343.5 1018.8 345.6C1017.1 347.7 1015.8 350.2 1014.7 352.8C1013.6 355.4 1012.8 358.3 1012.1 361C1011.4 363.7 1011.2 366.5 1010.6 369.2C1010 371.9 1009.6 375.2 1008.6 377.4C1007.6 379.6 1006.4 381.1 1004.5 382.5C1002.6 383.9 1000 385.4 997.3 386.1C994.5 386.8 989.5 386.8 988 386.9H957M715.9 399.5C715.9 396.6 715.9 387.6 715.9 382C715.9 376.4 715.7 370 715.9 366C716.1 362 716.2 360.4 717 357.9C717.8 355.3 718.8 352.7 720.6 350.7C722.4 348.7 725.2 347.1 727.7 346.1C730.2 345.1 733.1 344.8 735.9 344.8C738.6 344.8 741.6 345.1 744.2 346.1C746.8 347.1 749.3 348.9 751.3 350.7C753.2 352.5 754.7 354.7 755.9 356.9C757.1 359.1 757.8 361.4 758.5 364C759.2 366.6 759.4 369.6 760 372.3C760.6 375.1 761.2 377.8 762.1 380.5C763 383.2 763.9 386.3 765.2 388.7C766.5 391.1 768 393 769.8 394.8C771.6 396.6 775 398.8 776 399.6M1064.5 399.5C1064.5 396.6 1064.5 387.6 1064.5 382C1064.5 376.4 1064.7 370 1064.5 366C1064.3 362 1064.2 360.4 1063.4 357.9C1062.6 355.3 1061.6 352.7 1059.8 350.7C1058 348.7 1055.2 347.1 1052.7 346.1C1050.2 345.1 1047.2 344.8 1044.5 344.8C1041.8 344.8 1038.8 345.1 1036.2 346.1C1033.6 347.1 1031 348.9 1029.1 350.7C1027.1 352.5 1025.7 354.7 1024.5 356.9C1023.3 359.1 1022.6 361.4 1021.9 364C1021.2 366.6 1021 369.6 1020.4 372.3C1019.8 375.1 1019.2 377.8 1018.3 380.5C1017.4 383.2 1016.5 386.3 1015.2 388.7C1013.9 391.1 1012.4 393 1010.6 394.8C1008.8 396.6 1005.4 398.8 1004.4 399.6M709 400H848M932.4 400H1071.4M759.5 342C760.4 341.4 762.7 339.5 764.7 338.4C766.8 337.2 769.2 335.9 771.8 335.1C774.3 334.3 777.4 333.9 780 333.8C782.6 333.7 784.8 333.9 787.2 334.5C789.6 335.1 792.2 336.2 794.4 337.4C796.6 338.6 798.9 340.2 800.6 341.5C802.3 342.8 803.5 344.2 804.7 345.1C805.9 346 806.8 346.7 807.7 347.1C808.6 347.5 809.6 347.3 810 347.4H864.4L864.4 347.4C864.8 347.3 866.1 347.2 867 346.6C867.9 346 868.8 345.2 870 344C871.2 342.8 872.8 340.8 874.5 339.4C876.2 338 878.2 336.5 880 335.6C881.8 334.7 883.3 334.4 885 334.1C886.7 333.8 888.5 333.7 890.2 333.7C891.9 333.7 893.7 333.8 895.4 334.1C897.1 334.4 898.6 334.7 900.4 335.6C902.1 336.5 904.2 338 905.9 339.4C907.6 340.8 909.1 342.8 910.4 344C911.6 345.2 912.5 346 913.4 346.6C914.3 347.2 915.6 347.3 916 347.4H970.4L970.4 347.4C970.8 347.3 971.8 347.5 972.7 347.1C973.6 346.7 974.5 346 975.7 345.1C976.9 344.2 978.1 342.8 979.8 341.5C981.5 340.2 983.8 338.6 986 337.4C988.2 336.2 990.8 335.1 993.2 334.5C995.6 333.9 997.8 333.7 1000.4 333.8C1003 333.9 1006 334.3 1008.6 335.1C1011.2 335.9 1013.7 337.2 1015.7 338.4C1017.8 339.5 1020 341.4 1020.9 342M847.8 400V434.2Q847.8 437.4 851 437.4H929.4Q932.6 437.4 932.6 434.2V400M869.3 437.4 L871.4 392.4 L909 392.4 L911.1 437.4M776.5 400L847.8 426M1003.9 400L932.6 426M824 385V379.7H957V385M860.6 379.4V366.4Q860.6 364.2 863 364.2Q868 363 875 364.4Q890 362.6 905.4 364.4Q912 363 917.4 364.2Q919.8 364.2 919.8 366.4V379.4M875 364.4V379.4M905.4 364.4V379.4M873.9 364V357L877.2 353.8H902.4L905.7 357V364M873.9 358.2H905.7M869 438L866 447V617.6M911.4 438L914.4 447V617.6M866 447H914.4M881 438L885 447M899.4 438L895.4 447M819 504.6H865.2V517.8M819 504.6Q813.8 504.6 813.8 510V578.6Q813.8 583.9 819 583.9H836.2M832 583.9V530.5H836.2M961.4 504.6H915.2V517.8M961.4 504.6Q966.6 504.6 966.6 510V578.6Q966.6 583.9 961.4 583.9H944.2M948.4 583.9V530.5H944.2M865.2 517.8 L838.2 517.8 L836.2 519.8 L836.2 583.8M915.2 517.8 L942.2 517.8 L944.2 519.8 L944.2 583.8M850.6 517.8 L850.6 592 L865.2 592M929.8 517.8 L929.8 592 L915.2 592M850.6 560.4 L865.2 560.4M929.8 560.4 L915.2 560.4M836.2 544.1 L850.6 544.1M944.2 544.1 L929.8 544.1M852 580.2 L858.2 574 L864.4 580.2M928.4 580.2 L922.2 574 L916 580.2M832 583.9 L832 605.2 L830.6 607 L826.6 607.6 L824.2 609.8 L824.2 646.4 L823 649.6 L819.6 651.4 L807.2 652 L803.4 653.4 L801.6 656.6 L801.3 665.8 L800.4 665.8 L800.4 692.6 L802.7 694.4 L802.7 724 L805 729M948.4 583.9 L948.4 605.2 L949.8 607 L953.8 607.6 L956.2 609.8 L956.2 646.4 L957.4 649.6 L960.8 651.4 L973.2 652 L977 653.4 L978.8 656.6 L979.1 665.8 L980 665.8 L980 692.6 L977.7 694.4 L977.7 724 L975.4 729M863.8 634.2 L841.3 634.2 L841.3 645M916.6 634.2 L939.1 634.2 L939.1 645M848.1 634.2V645M932.3 634.2V645M863.8 645 L835.4 645 L835.4 652.7 L863.8 652.7M916.6 645 L945 645 L945 652.7 L916.6 652.7M863.8 795V636Q863.8 633.6 866.5 633.6H913.9Q916.6 633.6 916.6 636V795L910.9 801H869.5ZM863.8 795H916.6M864 638.4H916.4M840.3 653 L835 713M940.1 653 L945.4 713M814.3 713H863.8M966.1 713H916.6M800.4 665.8H819.4M806.4 665.8V671H819.4M814.8 671V713M819.4 665.8V788M813.6 671.5V679H818.4M980.0 665.8H961.0M974.0 665.8V671H961.0M965.6 671V713M961.0 665.8V788M966.8 671.5V679H962.0M776.5 771.5 L805.2 729 L807.8 732 L808.7 735.5 L808.7 768.6 L807.9 771.6 L806 773.3 L803.4 773.9 L790.4 774 L788.3 771.5 L744.8 771.5 L744.8 914.4 L789 914.4 L790.5 911.7 L838.5 911.7M1003.9 771.5 L975.2 729 L972.6 732 L971.7 735.5 L971.7 768.6 L972.5 771.6 L974.4 773.3 L977 773.9 L990 774 L992.1 771.5 L1035.6 771.5 L1035.6 914.4 L991.4 914.4 L989.9 911.7 L941.9 911.7M848.8 890.3L848.8 895.3L845.5 895.5Q841.3 896 841.2 899.5Q841.6 903 845 905A77.3 77.3 0 0 0 935.4 905Q938.8 903 939.2 899.5Q939.1 896 934.9 895.5L931.6 895.3L931.6 890.3M838.5 911.7A82.2 82.2 0 0 0 941.9 911.7M861.2 890.3A54.3 54.3 0 0 1 919.2 890.3M745 786.8 L768.5 786.8 L768.5 897.9 L745 897.9M1035.4 786.8 L1011.9 786.8 L1011.9 897.9 L1035.4 897.9M768.5 795.3 L824 795.3 L824 890.2 L768.5 890.2M1011.9 795.3 L956.4 795.3 L956.4 890.2 L1011.9 890.2M824 795.1 L829.6 799.6 L829.6 885.5 L824 890.2M956.4 795.1 L950.8 799.6 L950.8 885.5 L956.4 890.2M829.6 799.6 L841.8 799.6M950.8 799.6 L938.6 799.6M829.6 885.5 L848.4 885.5M950.8 885.5 L932 885.5M848.8 784.4 L842 784.8 L840.8 788 L848.8 890.3M931.6 784.4 L938.4 784.8 L939.6 788 L931.6 890.3M819.3 787.8 L839.6 789.9 L841.4 786M961.1 787.8 L940.8 789.9 L939 786M826.5 788.4 L826.5 724 L838.8 724 L838.8 789.6M953.9 788.4 L953.9 724 L941.6 724 L941.6 789.6M863.3 739.4 L853 739.4 L850.7 741.5 L850.7 780 L848.8 785M917.1 739.4 L927.4 739.4 L929.7 741.5 L929.7 780 L931.6 785M863.3 801 L863.3 832 L861.2 832 L861.2 890.3 L848.8 890.3M917.1 801 L917.1 832 L919.2 832 L919.2 890.3 L931.6 890.3M861.2 832H919.2M868 801V832M912.4 801V832M843.8 811.6 L849.6 810.8 L851.6 813 L851.6 860.5 L850.4 863.4 L847.2 864.6M936.6 811.6 L930.8 810.8 L928.8 813 L928.8 860.5 L930 863.4 L933.2 864.6"/>
<path class="dm" d="M705.2 260V362M1075.2 260V362M705.2 268.4H875.6M908 268.4H1075.2M890 334H1146M1138.6 334V590M1138.6 621.6V843M1114 843H1146M938 800.6H1083.6M938 885H1083.6M1076 800.6V828M1076 857V885M745 914V1022.4M1035.6 914V1023M745 1015.4H874.4M904 1015.4H1035.6"/>
<path class="ar" d="M705.6 268.4L726.1 265.1L726.1 271.7Z"/>
<path class="ar" d="M1074.8 268.4L1054.3 271.7L1054.3 265.1Z"/>
<path class="ar" d="M1138.6 334.6L1141.9 355.1L1135.3 355.1Z"/>
<path class="ar" d="M1138.6 842.6L1135.3 822.1L1141.9 822.1Z"/>
<path class="ar" d="M1076 801L1079.3 821.5L1072.7 821.5Z"/>
<path class="ar" d="M1076 884.6L1072.7 864.1L1079.3 864.1Z"/>
<path class="ar" d="M745.6 1015.4L766.1 1012.1L766.1 1018.7Z"/>
<path class="ar" d="M1035.2 1015.4L1014.7 1018.7L1014.7 1012.1Z"/>
<rect x="875.6" y="249.6" width="32.4" height="33.4" rx="3.5" class="lb"/><text transform="translate(891.9 275.2) scale(0.9 1)" font-family="Liberation Sans, sans-serif" font-size="23.2" text-anchor="middle" fill="#111">D</text>
<rect x="1122" y="590" width="32.6" height="31.6" rx="3.5" class="lb"/><text transform="translate(1138.2 614.4) scale(0.86 1)" font-family="Liberation Sans, sans-serif" font-size="23" text-anchor="middle" fill="#111">C</text>
<rect x="1063" y="828" width="29.6" height="29.0" rx="3.5" class="lb"/><text transform="translate(1077.6 850.1) scale(0.86 1)" font-family="Liberation Sans, sans-serif" font-size="20.6" text-anchor="middle" fill="#111">A</text>
<rect x="874.4" y="1001" width="29.6" height="29.4" rx="3.5" class="lb"/><text transform="translate(888.9 1023.7) scale(0.86 1)" font-family="Liberation Sans, sans-serif" font-size="20.6" text-anchor="middle" fill="#111">B</text>
</g>
</svg>
</body>
</html>
